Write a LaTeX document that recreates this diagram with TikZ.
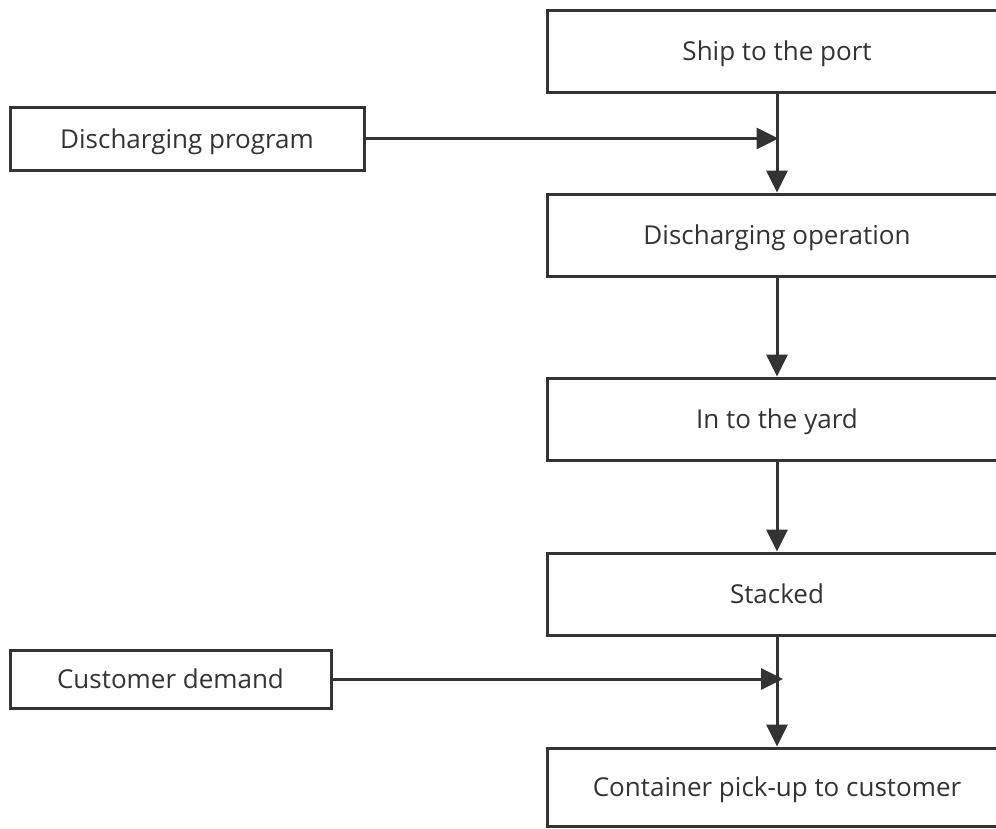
\documentclass[tikz,border=0pt]{standalone}
\usepackage{fontspec}
\setmainfont{Open Sans}
\usetikzlibrary{arrows.meta,calc}
\definecolor{ink}{HTML}{333333}
\begin{document}
\begin{tikzpicture}[x=1pt,y=-1pt,
  every node/.style={font=\fontsize{26}{30}\selectfont, text=ink, text height=19pt, text depth=0pt},
  mainbox/.style={draw=ink, line width=3pt, minimum width=460pt, minimum height=82pt, inner sep=0pt},
  sidebox/.style={draw=ink, line width=3pt, inner sep=0pt},
  flow/.style={draw=ink, line width=3pt, -{Triangle[length=22pt,width=21pt]}}]
\useasboundingbox (0,0) rectangle (996,828);
\clip (0,0) rectangle (996,828);
\node[mainbox] (ship) at (777,51) {Ship to the port};
\node[mainbox] (disop) at (777,235) {Discharging operation};
\node[mainbox] (yard) at (777,419) {In to the yard};
\node[mainbox] (stack) at (777,594) {Stacked};
\node[mainbox, minimum height=78pt] (pick) at (777,787) {Container pick-up to customer};
\node[sidebox, minimum width=354pt, minimum height=63pt] (prog) at (187,138.5) {Discharging program};
\node[sidebox, minimum width=321pt, minimum height=58pt] (cust) at (170.5,679) {Customer demand};
\coordinate (j1) at ($(ship.south |- prog.east)+(1.5,0)$);
\coordinate (j2) at ($(stack.south |- cust.east)+(6,0)$);
\draw[flow] (ship.south) -- (disop.north);
\draw[flow] (disop.south) -- (yard.north);
\draw[flow] (yard.south) -- (stack.north);
\draw[flow] (stack.south) -- (pick.north);
\draw[flow] (prog.east) -- (j1);
\draw[flow] (cust.east) -- (j2);
\end{tikzpicture}
\end{document}
